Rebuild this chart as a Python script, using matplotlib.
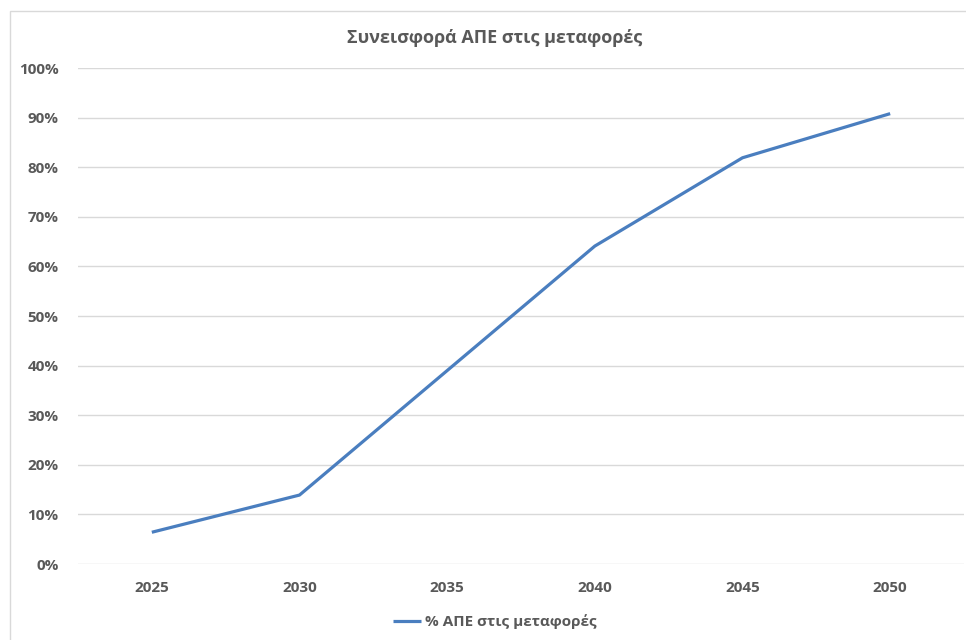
import matplotlib.pyplot as plt
from matplotlib.patches import Rectangle
from matplotlib.ticker import PercentFormatter

years = ["2025", "2030", "2035", "2040", "2045", "2050"]
res_share = [6.4, 13.9, 39.0, 64.1, 81.9, 90.8]
y_ticks = list(range(0, 101, 10))

title = "Συνεισφορά ΑΠΕ στις μεταφορές"
series_name = "% ΑΠΕ στις μεταφορές"

plt.rcParams['font.family'] = ['Open Sans', 'DejaVu Sans']
grey = "#595959"

fig = plt.figure(figsize=(9.66, 6.4), dpi=100)
fig.patches.append(Rectangle((10 / 966, -0.01), 1.0, 1 - 11 / 640 + 0.01,
                             transform=fig.transFigure, fill=False,
                             edgecolor="#d9d9d9", linewidth=1.0))

ax = fig.add_axes([78 / 966, 1 - 564 / 640, 886 / 966, 496 / 640])
x = range(len(years))
ax.plot(x, res_share, color="#4a7ebf", linewidth=2.3, label=series_name,
        solid_capstyle="butt")

ax.set_xlim(-0.5, len(years) - 0.5)
ax.set_ylim(0, 100)
ax.set_xticks(list(x))
ax.set_xticklabels(years)
ax.set_yticks(y_ticks)
ax.yaxis.set_major_formatter(PercentFormatter(decimals=0))
ax.grid(axis="y", color="#d9d9d9", linewidth=1.0)
ax.set_axisbelow(True)
for s in ax.spines.values():
    s.set_visible(False)
ax.tick_params(length=0, labelsize=11, labelcolor=grey)
ax.tick_params(axis="x", pad=12)
ax.tick_params(axis="y", pad=14)
for lbl in ax.get_xticklabels() + ax.get_yticklabels():
    lbl.set_fontweight("bold")

fig.text(495 / 966, 1 - 38 / 640, title, ha="center", va="center",
         fontsize=13, color=grey, fontweight="bold")

leg = fig.legend(loc="center", bbox_to_anchor=(495 / 966, 1 - 622 / 640),
                 frameon=False, handlelength=1.8, handletextpad=0.3,
                 prop={"size": 11, "weight": "bold"})
for t in leg.get_texts():
    t.set_color(grey)

fig.savefig("out.png", dpi=100)
